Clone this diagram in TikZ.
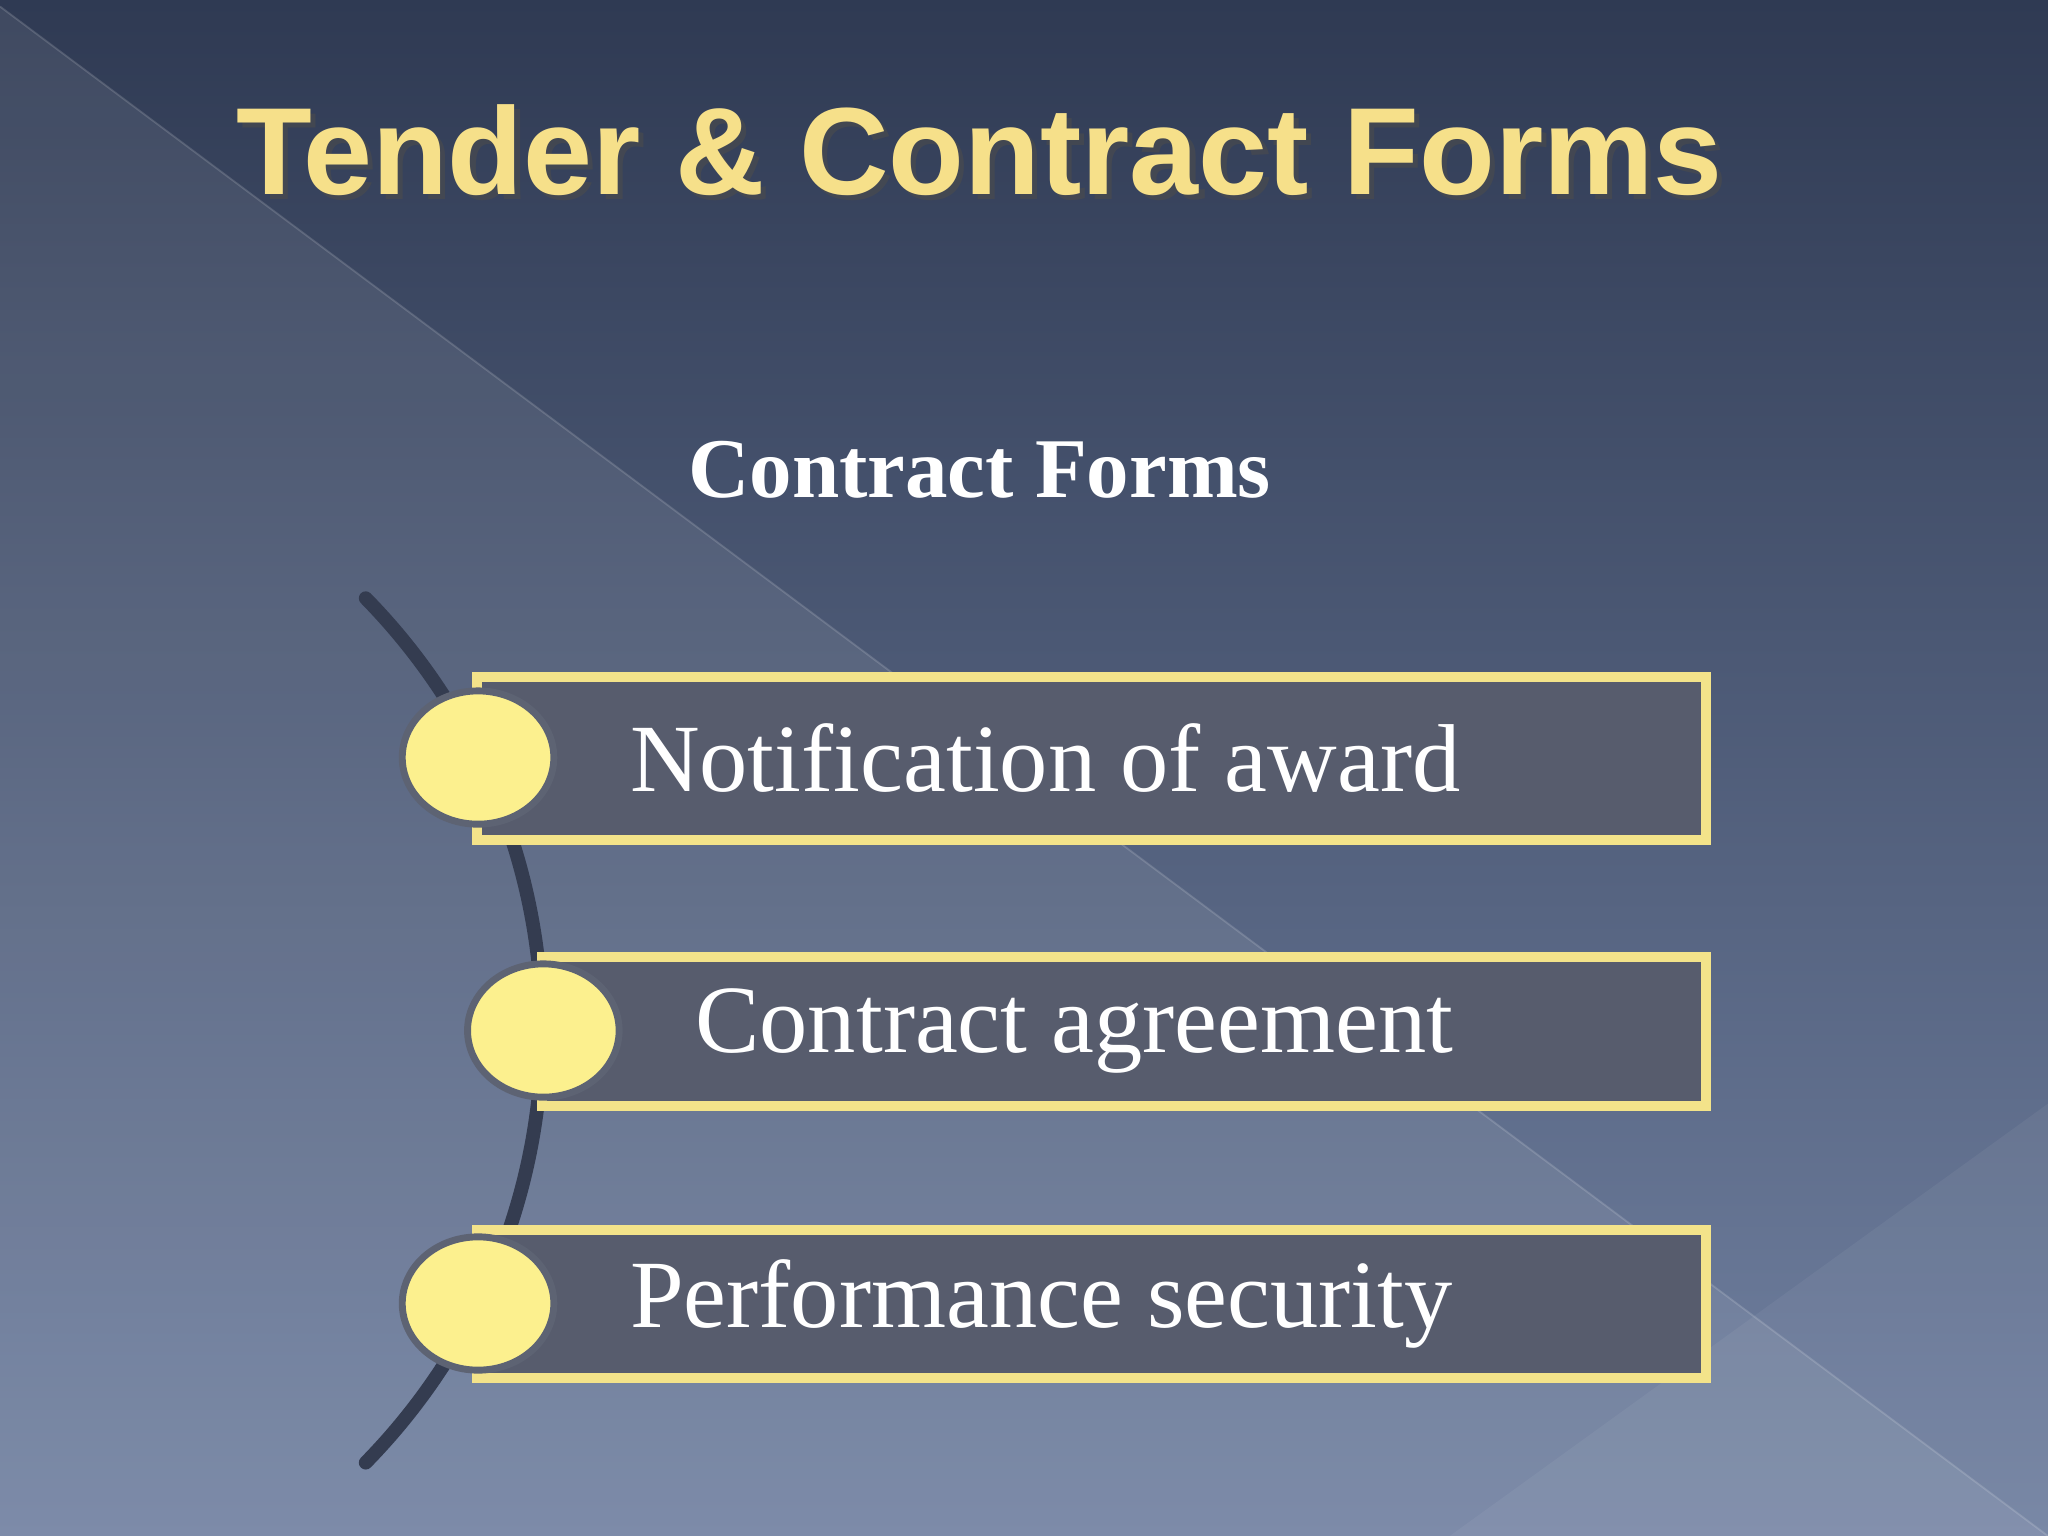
\documentclass[tikz,border=0pt]{standalone}
\usepackage{fontspec}
\usetikzlibrary{shapes.geometric}
\setmainfont{Liberation Serif}
\newfontfamily\arialf{Liberation Sans}
\definecolor{bgtop}{HTML}{2F3A53}
\definecolor{bgbot}{HTML}{7282A2}
\definecolor{boxfill}{HTML}{575C6D}
\definecolor{ylw}{HTML}{F3E38A}
\definecolor{dotfill}{HTML}{FCF08E}
\definecolor{titley}{HTML}{F6E08A}
\definecolor{arcc}{HTML}{343C50}
\begin{document}
\begin{tikzpicture}[x=0.01cm,y=-0.01cm,
  bar/.style={draw=ylw,line width=2.2pt,fill=boxfill},
  dot/.style={ellipse,draw=arcc!80,line width=1.5pt,fill=dotfill,minimum width=1.16cm,minimum height=1.02cm,inner sep=0pt},
  lab/.style={anchor=west,text=white,font=\fontsize{21}{25}\selectfont}]
\useasboundingbox (0,0) rectangle (1568,1176);
\shade[top color=bgtop,bottom color=bgbot] (0,0) rectangle (1568,1176);
\fill[white,opacity=0.08] (0,5) -- (1568,1176) -- (0,1176) -- cycle;
\fill[white,opacity=0.05] (1568,845) -- (1110,1176) -- (1568,1176) -- cycle;
\draw[white,opacity=0.15] (0,5) -- (1568,1176);
\node[font=\arialf\bfseries\fontsize{27}{31}\selectfont,text=black!70,opacity=0.6] at (754,119) {Tender \& Contract Forms};
\node (title) [font=\arialf\bfseries\fontsize{27}{31}\selectfont,text=titley] at (750,115) {Tender \& Contract Forms};
\node (sub) [font=\bfseries\fontsize{18.5}{22}\selectfont,text=white] at (750,360) {Contract Forms};
\draw[arcc,line width=3pt,line cap=round] (280,458) arc[start angle=-44.4,end angle=44.4,radius=473];
\draw[bar] (365,518) rectangle (1306,643);
\draw[bar] (415,733) rectangle (1306,847);
\draw[bar] (365,942) rectangle (1306,1055);
\node (d1) [dot] at (366,580) {};
\node (d2) [dot] at (416,789) {};
\node (d3) [dot] at (366,998) {};
\node (t1) [lab] at (470,580) {Notification of award};
\node (t2) [lab] at (520,789) {Contract agreement};
\node (t3) [lab] at (470,998) {Performance security};
\end{tikzpicture}
\end{document}
